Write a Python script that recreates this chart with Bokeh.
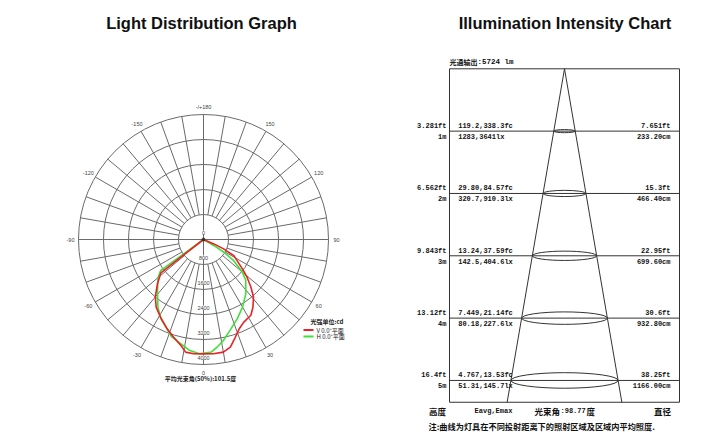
import numpy as np
from bokeh.plotting import figure
from bokeh.layouts import row
from bokeh.models import Range1d
from bokeh.core.properties import value
from bokeh.embed import file_html
from bokeh.resources import INLINE

# ---------------- data: light distribution (cd) ----------------
v_angles = [-90, -52, -46, -40, -35, -29, -22, -17, -12, -9, -5, 0,
            5, 10, 14, 18, 22, 26, 32, 36, 41, 45, 49, 52,
            62, 65, 67, 90]
v_cd = [0, 1730, 2050, 2400, 2640, 2840, 3090, 3270, 3470, 3650, 3670, 3660,
        3670, 3660, 3550, 3290, 3070, 2940, 2860, 2690, 2440, 2140, 1850, 1630,
        1100, 710, 360, 0]
h_angles = [-90, -54, -50, -42, -34, -28, -23, -18, -12, -7, -2,
            4, 7, 11, 16, 23, 30, 38, 46, 50, 55, 58, 60, 90]
h_cd = [0, 1700, 1900, 2200, 2610, 2890, 3060, 3280, 3420, 3580, 3660,
        3610, 3480, 3300, 3040, 2760, 2500, 2200, 1880, 1620, 1180, 770, 380, 0]
ring_values = [800, 1600, 2400, 3200, 4000]
ring_labels = ["0", "800", "1600", "2400", "3200", "4000"]
angle_ticks = [180, -150, 150, -120, 120, -90, 90, -60, 60, -30, 30, 0]
angle_tick_labels = ["-/+180", "-150", "150", "-120", "120", "-90", "90",
                     "-60", "60", "-30", "30", "0"]
legend_names = ["V 0.0°平面", "H 0.0°平面"]
legend_colors = ["#ec2027", "#3ee03a"]
unit_text = "光强单位:cd"
beam50_text = "平均光束角(50%):101.5度"

# ---------------- data: illumination chart ----------------
heights_m = [1, 2, 3, 4, 5]
height_m_labels = ["1m", "2m", "3m", "4m", "5m"]
height_ft_labels = ["3.281ft", "6.562ft", "9.843ft", "13.12ft", "16.4ft"]
fc_labels = ["119.2,338.3fc", "29.80,84.57fc", "13.24,37.59fc", "7.449,21.14fc", "4.767,13.53fc"]
lx_labels = ["1283,3641lx", "320.7,910.3lx", "142.5,404.6lx", "80.18,227.6lx", "51.31,145.7lx"]
dia_ft_labels = ["7.651ft", "15.3ft", "22.95ft", "30.6ft", "38.25ft"]
dia_cm_labels = ["233.20cm", "466.40cm", "699.60cm", "932.80cm", "1166.00cm"]
flux_label = "光通输出"
flux_value = ":5724 lm"
height_title = "高度"
e_title = "Eavg,Emax"
beam_label = "光束角"
beam_value = ":98.77"
beam_unit = "度"
dia_title = "直径"
note_text = "注:曲线为灯具在不同投射距离下的照射区域及区域内平均照度."

CJK = "Noto Sans CJK SC"
MONO = "Liberation Mono"
SANS = "Liberation Sans"
H = 440

# ================= left: polar light distribution =================
S = 32.0  # cd per screen pixel
CX, CY = 203, 239
W1 = 404
p1 = figure(width=W1, height=H, x_range=Range1d(-CX * S, (W1 - CX) * S),
            y_range=Range1d(-(H - CY) * S, CY * S), output_backend="svg",
            toolbar_location=None, min_border=0,
            x_axis_location=None, y_axis_location=None)
p1.xgrid.visible = False
p1.ygrid.visible = False
p1.outline_line_color = None
p1.background_fill_color = "white"

rmax = ring_values[-1]
rin = ring_values[0]
grid_col = "#6a6a6a"
# spokes every 10 degrees
sp = np.radians(np.arange(-170, 181, 10))
p1.segment(x0=rin * np.sin(sp), y0=-rin * np.cos(sp), x1=rmax * np.sin(sp), y1=-rmax * np.cos(sp),
           line_color=grid_col, line_width=1)
# full diameters
p1.segment(x0=[-rmax, 0], y0=[0, -rmax], x1=[rmax, 0], y1=[0, rmax], line_color=grid_col, line_width=1)
# rings
p1.circle(x=[0] * len(ring_values), y=[0] * len(ring_values), radius=ring_values,
          fill_color=None, line_color=grid_col, line_width=1)

# curves
va = np.radians(v_angles)
ha = np.radians(h_angles)
p1.line(x=np.array(h_cd) * np.sin(ha), y=-np.array(h_cd) * np.cos(ha), line_color=legend_colors[1], line_width=1.6)
p1.line(x=np.array(v_cd) * np.sin(va), y=-np.array(v_cd) * np.cos(va), line_color=legend_colors[0], line_width=1.6)
p1.scatter(x=[0], y=[0], size=3, color="#333333")

# ring value labels
rl_r = np.array([0] + ring_values, dtype=float)
p1.text(x=[0] * len(rl_r), y=-rl_r + 7 * S, text=ring_labels, text_align="center",
        text_baseline="middle", text_font=value(SANS), text_font_size="5.5px",
        text_color="#444444", background_fill_color="white")

# angle labels
ta = np.radians(angle_ticks)
rl = 133 * S
p1.text(x=rl * np.sin(ta), y=-rl * np.cos(ta), text=angle_tick_labels, text_align="center",
        text_baseline="middle", text_font=value(SANS), text_font_size="5.5px", text_color="#444444")

# legend
p1.text(x=[107 * S], y=[-82 * S], text=[unit_text], text_baseline="middle",
        text_font=value(CJK), text_font_size="6px", text_font_style="bold", text_color="#222222")
ly = np.array([-90.5, -97]) * S
p1.segment(x0=[100 * S] * 2, y0=ly, x1=[110 * S] * 2, y1=ly, line_color=legend_colors, line_width=2)
p1.text(x=[113 * S] * 2, y=ly, text=legend_names, text_baseline="middle",
        text_font=value(CJK), text_font_size="6px", text_color="#222222")

p1.text(x=[-3 * S], y=[-139 * S], text=[beam50_text], text_align="center", text_baseline="middle",
        text_font=value(CJK), text_font_size="6px", text_font_style="bold", text_color="#222222")

p1.text(x=[-2 * S], y=[217 * S], text=["Light Distribution Graph"], text_align="center",
        text_baseline="middle", text_font=value(SANS), text_font_size="16.5px",
        text_font_style="bold", text_color="#111111")

# ================= right: illumination intensity chart =================
M = 62.33  # screen px per chart unit (1 m of height)
px = 1.0 / M
W2 = 712 - W1
AX, AY = 564 - W1, 68.3
p2 = figure(width=W2, height=H, x_range=Range1d(-AX * px, (W2 - AX) * px),
            y_range=Range1d((H - AY) * px, -AY * px), output_backend="svg",
            toolbar_location=None, min_border=0,
            x_axis_location=None, y_axis_location=None)
p2.xgrid.visible = False
p2.ygrid.visible = False
p2.outline_line_color = None

half_w = 115 * px
bottom = 5.35
slope = 0.172
lc = "#333333"
p2.quad(left=[-half_w], right=[half_w], top=[0], bottom=[bottom], fill_color=None, line_color=lc, line_width=1)
hm = np.array(heights_m, dtype=float)
p2.segment(x0=[-half_w] * 5, x1=[half_w] * 5, y0=hm, y1=hm, line_color=lc, line_width=1)
p2.segment(x0=[0, 0], y0=[0, 0], x1=[-slope * bottom, slope * bottom], y1=[bottom, bottom], line_color=lc, line_width=1)
ew = 2 * slope * hm
p2.ellipse(x=[0] * 5, y=hm, width=ew, height=0.145 * ew, fill_color=None, line_color=lc, line_width=1)

tf = dict(text_font=value(MONO), text_font_size="7px", text_font_style="bold", text_color="#111111")
cf = dict(text_font=value(CJK), text_font_style="bold", text_color="#111111")
up = hm - 1 * px
dn = hm + 2 * px
p2.text(x=[-118 * px] * 5, y=up, text=height_ft_labels, text_align="right", text_baseline="bottom", **tf)
p2.text(x=[-118 * px] * 5, y=dn, text=height_m_labels, text_align="right", text_baseline="top", **tf)
p2.text(x=[-106.3 * px] * 5, y=up, text=fc_labels, text_align="left", text_baseline="bottom", **tf)
p2.text(x=[-106.3 * px] * 5, y=dn, text=lx_labels, text_align="left", text_baseline="top", **tf)
p2.text(x=[106 * px] * 5, y=up, text=dia_ft_labels, text_align="right", text_baseline="bottom", **tf)
p2.text(x=[106 * px] * 5, y=dn, text=dia_cm_labels, text_align="right", text_baseline="top", **tf)

# flux output header
fy = -7.3 * px
p2.text(x=[-115 * px], y=[fy], text=[flux_label], text_align="left", text_baseline="middle",
        text_font_size="7px", **cf)
p2.text(x=[-87 * px], y=[fy], text=[flux_value], text_align="left", text_baseline="middle",
        text_font=value(MONO), text_font_size="7.5px", text_font_style="bold", text_color="#111111")

by = (410 - AY) * px
p2.text(x=[-127 * px, 98 * px], y=[by, by], text=[height_title, dia_title],
        text_align="center", text_baseline="middle", text_font_size="8.5px", **cf)
p2.text(x=[-71 * px], y=[by], text=[e_title], text_align="center", text_baseline="middle", **tf)
p2.text(x=[-30 * px], y=[by], text=[beam_label], text_align="left", text_baseline="middle",
        text_font_size="8.5px", **cf)
p2.text(x=[-4 * px], y=[by], text=[beam_value], text_align="left", text_baseline="middle", **tf)
p2.text(x=[22 * px], y=[by], text=[beam_unit], text_align="left", text_baseline="middle",
        text_font_size="8.5px", **cf)
p2.text(x=[-136 * px], y=[(425 - AY) * px], text=[note_text], text_align="left", text_baseline="middle",
        text_font_size="8.2px", **cf)

p2.text(x=[0.5 * px], y=[-(AY - 22) * px], text=["Illumination Intensity Chart"], text_align="center",
        text_baseline="middle", text_font=value(SANS), text_font_size="16.5px",
        text_font_style="bold", text_color="#111111")

layout = row(p1, p2)
open("out.html", "w").write(file_html(layout, INLINE))
